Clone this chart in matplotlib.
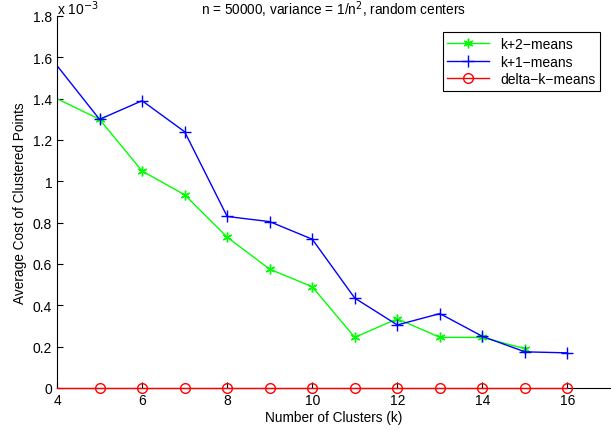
import numpy as np
import matplotlib.pyplot as plt
from matplotlib.ticker import FuncFormatter
from matplotlib.transforms import offset_copy

plt.rcParams['font.family'] = ['Liberation Sans', 'DejaVu Sans']

k = [4, 5, 6, 7, 8, 9, 10, 11, 12, 13, 14, 15, 16]
k2_means = [1.40e-3, 1.30e-3, 1.05e-3, 0.935e-3, 0.73e-3, 0.575e-3, 0.49e-3,
            0.245e-3, 0.335e-3, 0.245e-3, 0.245e-3, 0.19e-3]
k1_means = [1.56e-3, 1.30e-3, 1.39e-3, 1.24e-3, 0.83e-3, 0.805e-3, 0.72e-3,
            0.435e-3, 0.305e-3, 0.36e-3, 0.25e-3, 0.175e-3, 0.17e-3]
delta_k_means = [0, 0, 0, 0, 0, 0, 0, 0, 0, 0, 0, 0, 0]

fig = plt.figure(figsize=(6.12, 4.31), dpi=100)
ax = fig.add_axes([57/612, 42/431, 553/612, 372/431])

ax.plot(k[:len(k2_means)], k2_means, color=(0, 1, 0), lw=1, marker=(6, 2, 0),
        ms=7, mew=1, markevery=slice(1, None), label='k+2\u2212means')
ax.plot(k, k1_means, color=(0, 0, 1), lw=1, marker='+', ms=9, mew=1,
        markevery=slice(1, None), label='k+1\u2212means')
ax.plot(k, delta_k_means, color=(1, 0, 0), lw=1, marker='o', ms=7,
        mfc='none', mew=1, markevery=slice(1, None), label='delta\u2212k\u2212means',
        clip_on=False, zorder=5)

ax.set_xlim(4, 17)
ax.set_ylim(0, 1.8e-3)
ax.set_xticks([4, 6, 8, 10, 12, 14, 16])
ax.set_yticks(np.arange(0, 1.81e-3, 0.2e-3))
ax.yaxis.set_major_formatter(FuncFormatter(lambda v, p: f'{v*1e3:g}'))
ax.tick_params(direction='in', labelsize=10, length=4, width=0.8)
ax.spines['top'].set_visible(False)
ax.spines['right'].set_visible(False)

above = offset_copy(ax.transAxes, fig=fig, x=0, y=1.5, units='points')
ax.text(0.0, 1.0, 'x 10$^{-3}$', transform=above, fontsize=10,
        ha='left', va='baseline')
ax.text(0.5, 1.0, 'n = 50000, variance = 1/n$^2$, random centers',
        transform=above, fontsize=9.8, ha='center', va='baseline')
ax.set_xlabel('Number of Clusters (k)', fontsize=9.8, labelpad=2)
ax.set_ylabel('Average Cost of Clustered Points', fontsize=9.8)

leg = ax.legend(loc='upper right', fontsize=10, fancybox=False, framealpha=1,
                edgecolor='black', borderpad=0.35, labelspacing=0.25,
                handlelength=3, bbox_to_anchor=(0.995, 0.975))
leg.get_frame().set_linewidth(0.8)

fig.savefig('out.png', dpi=100)
